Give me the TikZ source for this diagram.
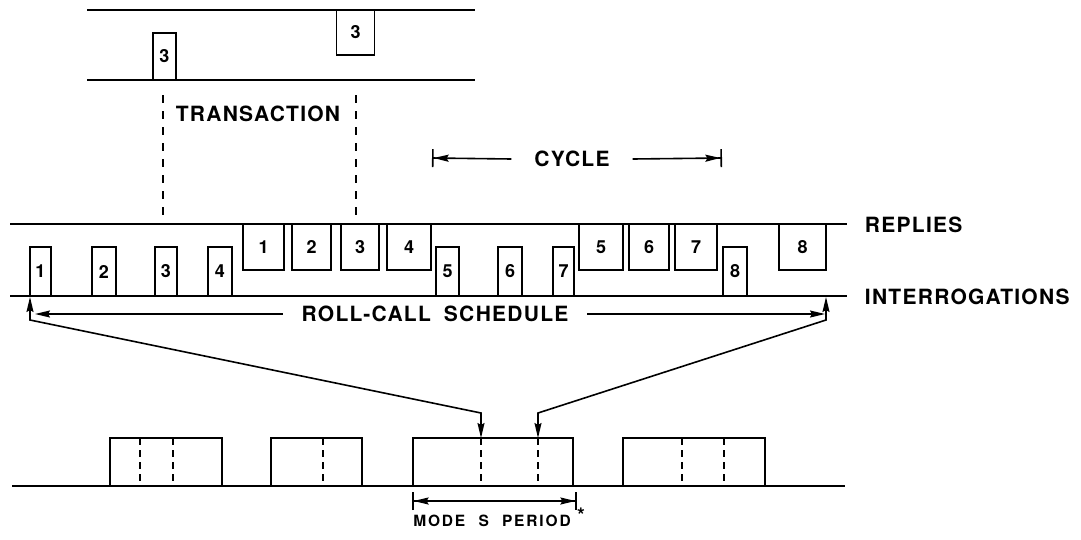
\documentclass[tikz,border=0pt]{standalone}
\usepackage{fontspec}
\setmainfont{TeX Gyre Heros}
\newfontfamily\lblfont{TeX Gyre Heros}[LetterSpace=6]
\newfontfamily\smlblfont{TeX Gyre Heros}[LetterSpace=12]
\newcommand\dgfont{\fontsize{18}{18}\selectfont\bfseries}
\newcommand\bigfont{\lblfont\fontsize{21}{21}\selectfont\bfseries}
\newcommand\smfont{\smlblfont\fontsize{15.5}{15.5}\selectfont\bfseries}
\newcommand\astfont{\fontsize{20}{20}\selectfont\bfseries}
\usetikzlibrary{arrows.meta}
\tikzset{
  >={Stealth[length=15pt,width=7pt,inset=2pt]},
  pulse/.style={draw, line width=1.9pt, inner sep=0pt, font=\dgfont},
  ipulse/.style={pulse, minimum height=49pt, text depth=-6pt},
  slot/.style={draw, line width=1.9pt, inner sep=0pt},
  slotdash/.style={line width=1.9pt, dash pattern=on 7pt off 5pt},
  trdash/.style={line width=1.6pt, dash pattern=on 8pt off 8pt},
  lbl/.style={font=\bigfont, inner sep=0pt},
  barend/.style={-{Stealth[length=15pt,width=7pt,inset=2pt,sep=0pt]Bar[width=18pt,sep=0pt]}},
  barboth/.style={{Bar[width=18pt,sep=0pt]Stealth[length=15pt,width=7pt,inset=2pt,sep=0pt]}-{Stealth[length=15pt,width=7pt,inset=2pt,sep=0pt]Bar[width=18pt,sep=0pt]}},
}
\begin{document}
\begin{tikzpicture}[x=1pt,y=-1pt,line width=1.9pt]
\useasboundingbox (0,0) rectangle (1081,539);

% ---------- top detail ----------
\draw (87,10) -- (475,10);
\draw (87,80) -- (475,80);
\node[pulse, minimum width=23pt, minimum height=47pt] (ti3) at (164.5,56.5) {3};
\node[pulse, minimum width=38pt, minimum height=45pt] (tr3) at (355.5,32.5) {3};
\coordinate (d1a) at (163,95);  \coordinate (d1b) at (163,222);
\coordinate (d2a) at (356,95);  \coordinate (d2b) at (356,222);
\draw[trdash] (d1a) -- (d1b);
\draw[trdash] (d2a) -- (d2b);
\node[lbl] (trans) at (258,114) {TRANSACTION};

% ---------- cycle ----------
\node[lbl, inner xsep=22pt] (cyc) at (572,159) {CYCLE};
\coordinate (cycL) at (432,158);
\coordinate (cycR) at (722,158);
\draw[barend, line width=1.6pt] (cyc.west) -- (cycL);
\draw[barend, line width=1.6pt] (cyc.east) -- (cycR);

% ---------- schedule lines ----------
\draw (10,224) -- (847,224);
\draw (10,296) -- (847,296);
\node[lbl, anchor=west] (rep) at (864,225) {REPLIES};
\node[lbl, anchor=west] (int) at (864,297) {INTERROGATIONS};

% interrogations
\node[pulse, minimum width=21pt, minimum height=49pt] (i1) at (40.5,271.5) {\raisebox{-3pt}{1}};
\node[pulse, minimum width=24pt, minimum height=49pt] (i2) at (104,271.5) {\raisebox{-3pt}{2}};
\node[pulse, minimum width=22pt, minimum height=49pt] (i3) at (166,271.5) {\raisebox{-3pt}{3}};
\node[pulse, minimum width=24pt, minimum height=49pt] (i4) at (220,271.5) {\raisebox{-3pt}{4}};
\node[pulse, minimum width=23pt, minimum height=49pt] (i5) at (447.5,271.5) {\raisebox{-3pt}{5}};
\node[pulse, minimum width=24pt, minimum height=49pt] (i6) at (510,271.5) {\raisebox{-3pt}{6}};
\node[pulse, minimum width=21pt, minimum height=49pt] (i7) at (563.5,271.5) {\raisebox{-3pt}{7}};
\node[pulse, minimum width=24pt, minimum height=49pt] (i8) at (735,271.5) {\raisebox{-3pt}{8}};
% replies
\node[pulse, minimum width=41pt, minimum height=46pt] (r1) at (263.5,247) {1};
\node[pulse, minimum width=39pt, minimum height=46pt] (r2) at (311.5,247) {2};
\node[pulse, minimum width=38pt, minimum height=46pt] (r3) at (360,247) {3};
\node[pulse, minimum width=44pt, minimum height=46pt] (r4) at (409,247) {4};
\node[pulse, minimum width=44pt, minimum height=46pt] (r5) at (601,247) {5};
\node[pulse, minimum width=40pt, minimum height=46pt] (r6) at (649,247) {6};
\node[pulse, minimum width=42pt, minimum height=46pt] (r7) at (696,247) {7};
\node[pulse, minimum width=47pt, minimum height=46pt] (r8) at (802.5,247) {8};

% roll-call schedule
\node[lbl, inner xsep=18pt] (rc) at (435,314) {ROLL-CALL\hspace{6pt} SCHEDULE};
\coordinate (rcL) at (35,314);
\coordinate (rcR) at (825,314);
\draw[->, line width=1.6pt] (rc.west) -- (rcL);
\draw[->, line width=1.6pt] (rc.east) -- (rcR);

% ---------- bottom: Mode S periods ----------
\draw (12,486) -- (845,486);
\node[slot, minimum width=112pt, minimum height=48pt] (bA) at (166,462) {};
\node[slot, minimum width=91pt, minimum height=48pt] (bB) at (316.5,462) {};
\node[slot, minimum width=160pt, minimum height=48pt] (bC) at (493,462) {};
\node[slot, minimum width=142pt, minimum height=48pt] (bD) at (694,462) {};
\draw[slotdash] (140,438) -- (140,486);
\draw[slotdash] (173,438) -- (173,486);
\draw[slotdash] (323,438) -- (323,486);
\draw[slotdash] (481,438) -- (481,486);
\draw[slotdash] (538,438) -- (538,486);
\draw[slotdash] (682,438) -- (682,486);
\draw[slotdash] (724,438) -- (724,486);

% projection lines
\coordinate (pL) at (30,297);
\coordinate (pLk) at (30,320);
\coordinate (cLk) at (481,413);
\coordinate (cL) at (481,438);
\coordinate (pR) at (826,297);
\coordinate (pRk) at (826,320);
\coordinate (cRk) at (538,413);
\coordinate (cR) at (538,438);
\draw[<->, line width=1.6pt] (pL) -- (pLk) -- (cLk) -- (cL);
\draw[<->, line width=1.6pt] (pR) -- (pRk) -- (cRk) -- (cR);

% mode S period
\coordinate (msL) at (412,501);
\coordinate (msR) at (577,501);
\draw[barboth, line width=1.6pt] (msL) -- (msR);
\node[font=\smfont, inner sep=0pt] (ms) at (492,521) {MODE\hspace{7pt} S\hspace{7pt} PERIOD};
\node[font=\astfont, inner sep=0pt] (ast) at (581,515) {*};
\end{tikzpicture}
\end{document}
